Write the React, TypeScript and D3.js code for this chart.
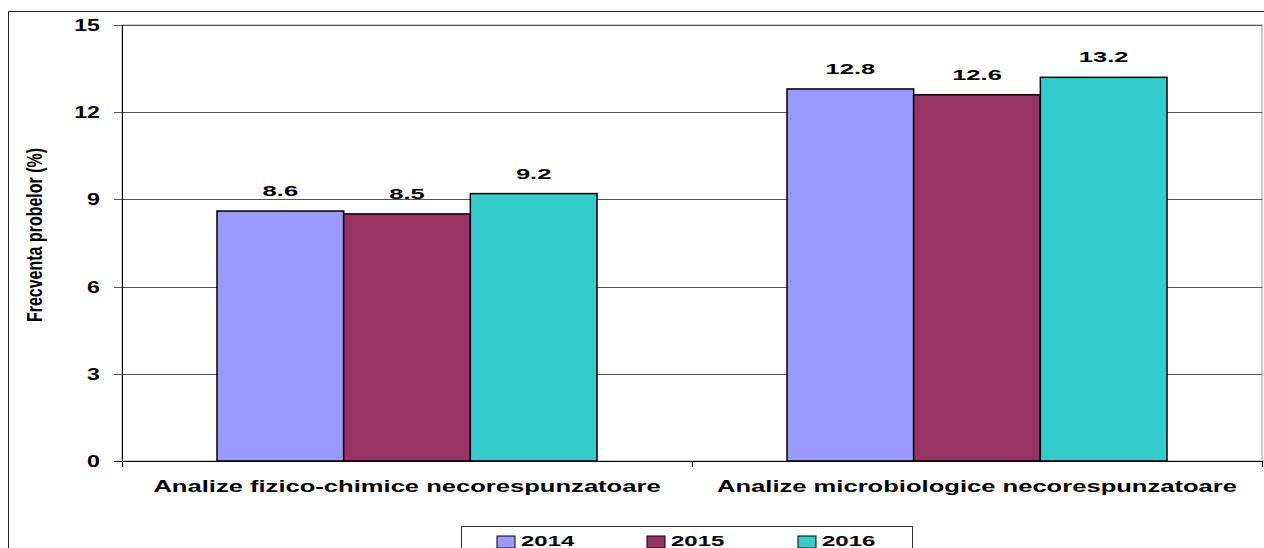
import React from "react";
import * as d3 from "d3";

const categories = [
  "Analize fizico-chimice necorespunzatoare",
  "Analize microbiologice necorespunzatoare",
];
const years = ["2014", "2015", "2016"];
const values2014 = [8.6, 12.8];
const values2015 = [8.5, 12.6];
const values2016 = [9.2, 13.2];
const yTicks = [0, 3, 6, 9, 12, 15];
const colors = ["#9999FF", "#993366", "#33CCCC"];
const yTitle = "Frecventa probelor (%)";

const series = [values2014, values2015, values2016];

const W = 1264;
const H = 548;
const FONT = "'Liberation Sans', Arial, Helvetica, sans-serif";

function SText({
  x,
  y,
  sx,
  size,
  anchor,
  children,
}: {
  x: number;
  y: number;
  sx: number;
  size: number;
  anchor: "start" | "middle" | "end";
  children: React.ReactNode;
}) {
  return (
    <text
      transform={`translate(${x},${y}) scale(${sx},1)`}
      textAnchor={anchor}
      fontFamily={FONT}
      fontWeight="bold"
      fontSize={size}
      fill="#000"
    >
      {children}
    </text>
  );
}

export default function App() {
  const left = 122;
  const right = 1262;
  const top = 25;
  const bottom = 461;

  const x0 = d3.scaleBand<string>().domain(categories).range([left, right]).paddingInner(0).paddingOuter(0);
  const x1 = d3
    .scaleBand<string>()
    .domain(years)
    .range([0, x0.bandwidth()])
    .paddingInner(0)
    .paddingOuter(0.75);
  const y = d3.scaleLinear().domain([0, 15]).range([bottom, top]);

  const catTicks = [left, ...categories.map((c) => (x0(c) as number) + x0.bandwidth())];

  const legendX = [497, 647, 798];

  return (
    <svg
      width={W}
      height={H}
      style={{ position: "absolute", left: 0, top: 0, background: "#fff" }}
    >
      <rect x={0} y={0} width={W} height={H} fill="#fff" />
      {/* outer chart border */}
      <rect x={8.5} y={11.5} width={W + 10} height={H + 10} fill="none" stroke="#222" strokeWidth={1} />
      {/* plot area border */}
      <rect x={left} y={top} width={right - left} height={bottom - top} fill="none" stroke="#999" strokeWidth={1} />
      {/* gridlines */}
      {yTicks.map((t) => (
        <line
          key={"g" + t}
          x1={left - 8}
          x2={right}
          y1={Math.round(y(t)) + 0.5}
          y2={Math.round(y(t)) + 0.5}
          stroke={t === 0 ? "#000" : "#555"}
          strokeWidth={1}
        />
      ))}
      {/* y axis */}
      <line x1={left + 0.5} x2={left + 0.5} y1={top} y2={bottom + 6} stroke="#000" strokeWidth={1} />
      {catTicks.map((cx, i) => (
        <line key={"ct" + i} x1={cx + 0.5} x2={cx + 0.5} y1={bottom} y2={bottom + 6} stroke="#000" strokeWidth={1} />
      ))}
      {/* y tick labels */}
      {yTicks.map((t) => (
        <SText key={"yl" + t} x={100} y={y(t) + 6} sx={1.45} size={16} anchor="end">
          {t}
        </SText>
      ))}
      {/* bars */}
      {categories.map((c, ci) => (
        <g key={c}>
          {years.map((yr, si) => {
            const bx = (x0(c) as number) + (x1(yr) as number);
            const v = series[si][ci];
            return (
              <g key={yr}>
                <rect
                  x={bx}
                  y={y(v)}
                  width={x1.bandwidth()}
                  height={y(0) - y(v)}
                  fill={colors[si]}
                  stroke="#000"
                  strokeWidth={1.5}
                />
                <SText x={bx + x1.bandwidth() / 2} y={y(v) - 15} sx={1.65} size={15.5} anchor="middle">
                  {v.toFixed(1)}
                </SText>
              </g>
            );
          })}
        </g>
      ))}
      {/* category labels */}
      {categories.map((c) => (
        <SText key={"cl" + c} x={(x0(c) as number) + x0.bandwidth() / 2} y={492} sx={1.55} size={16.5} anchor="middle">
          {c}
        </SText>
      ))}
      {/* y title */}
      <text
        transform={`translate(42,235) scale(1.35,1) rotate(-90)`}
        textAnchor="middle"
        fontFamily={FONT}
        fontWeight="bold"
        fontSize={16}
        fill="#000"
      >
        {yTitle}
      </text>
      {/* legend */}
      <rect x={461.5} y={526.5} width={451} height={40} fill="#fff" stroke="#333" strokeWidth={1} />
      {years.map((yr, i) => (
        <g key={"lg" + yr}>
          <rect x={legendX[i]} y={536} width={18} height={12} fill={colors[i]} stroke="#000" strokeWidth={1} />
          <SText x={legendX[i] + 24} y={546} sx={1.55} size={15.5} anchor="start">
            {yr}
          </SText>
        </g>
      ))}
    </svg>
  );
}
